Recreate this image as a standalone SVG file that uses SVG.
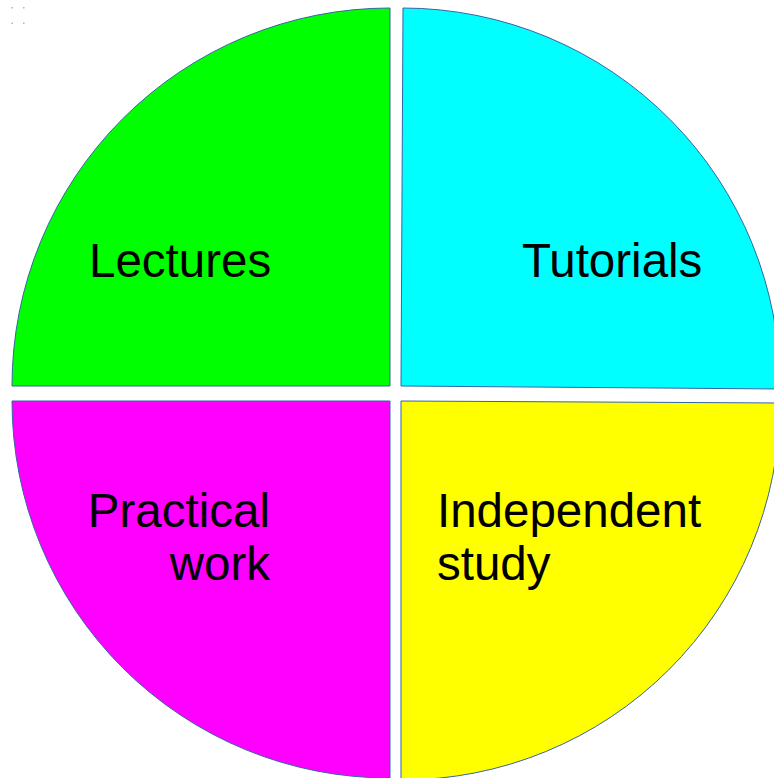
<svg xmlns="http://www.w3.org/2000/svg" width="774" height="778" viewBox="0 0 774 778">
  <style>
    .sector { stroke: #3465a4; stroke-width: 1; }
    .label { font-family: "Liberation Sans", Arial, sans-serif; font-size: 47.5px; fill: #000000; }
    .handle { fill: #9fb6d8; }
  </style>
  <rect width="774" height="778" fill="#ffffff"/>

  <!-- small corner handles -->
  <g id="handles">
    <rect class="handle" x="11.5" y="7" width="1.5" height="1.5"/>
    <rect class="handle" x="23" y="7" width="1.5" height="1.5"/>
    <rect class="handle" x="11.5" y="22.5" width="1.5" height="1.5"/>
    <rect class="handle" x="23" y="22.5" width="1.5" height="1.5"/>
  </g>

  <g id="lectures">
    <path class="sector" fill="#00ff00" d="M390,386 L12,386 A378,378 0 0 1 390,8 Z"/>
    <text class="label" x="89" y="277">Lectures</text>
  </g>

  <g id="tutorials">
    <path class="sector" fill="#00ffff" d="M401,386 L403,8 A378,378 0 0 1 780,389 Z"/>
    <text class="label" x="522" y="277">Tutorials</text>
  </g>

  <g id="practical-work">
    <path class="sector" fill="#ff00ff" d="M390,401 L390,778 A377,377 0 0 1 12,401 Z"/>
    <text class="label" text-anchor="end" x="270" y="527">Practical</text>
    <text class="label" text-anchor="end" x="270" y="580">work</text>
  </g>

  <g id="independent-study">
    <path class="sector" fill="#ffff00" d="M401,401 L780,403 A378,378 0 0 1 401,780 Z"/>
    <text class="label" x="437" y="527">Independent</text>
    <text class="label" x="437" y="580">study</text>
  </g>
</svg>
